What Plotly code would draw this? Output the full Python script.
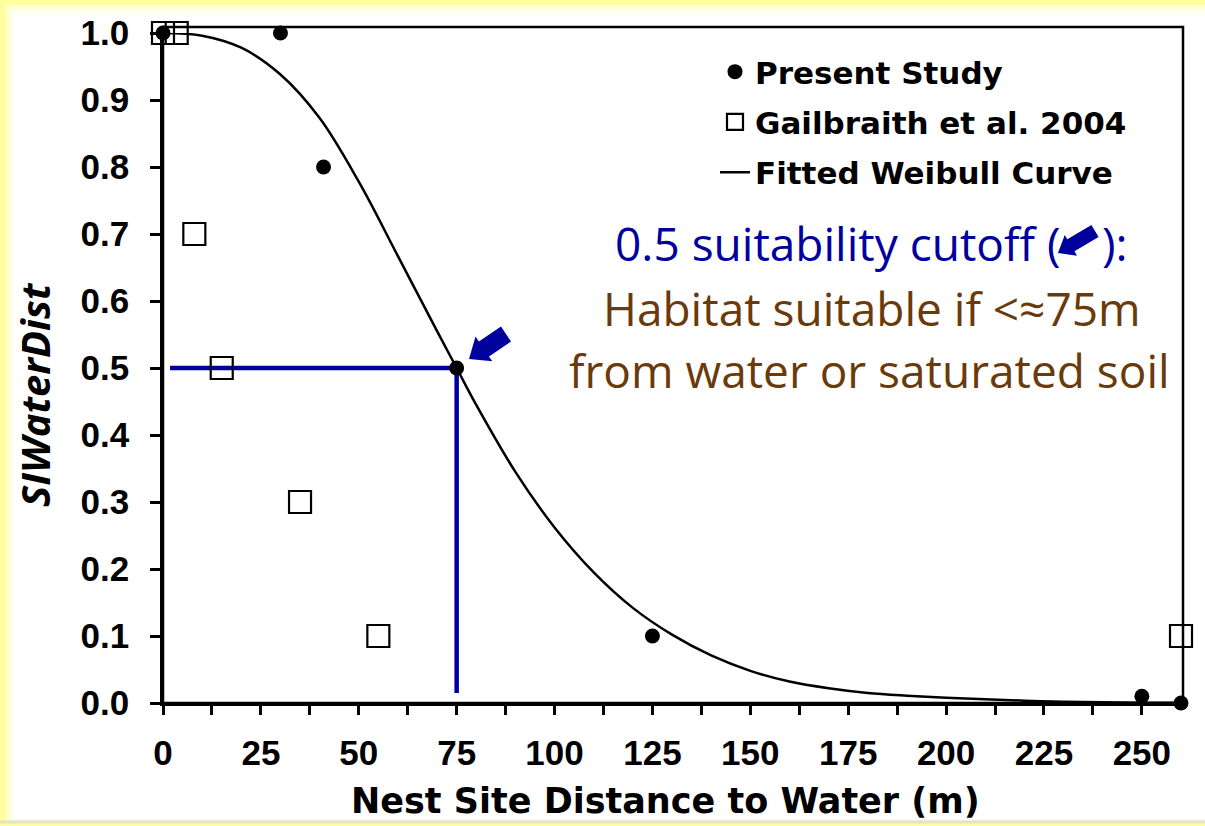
import math
import plotly.graph_objects as go

# ---- data -------------------------------------------------------------
# Present Study observations (nest site distance to water, m / SI value)
study_dist = [0, 30, 41, 75, 125, 250, 260]
study_si = [1.0, 1.0, 0.8, 0.5, 0.1, 0.01, 0.0]

# Gailbraith et al. 2004
gail_dist = [0, 3.5, 8, 15, 35, 55, 260]
gail_si = [1.0, 1.0, 0.7, 0.5, 0.3, 0.1, 0.1]

# Fitted Weibull curve, sampled along the distance axis
curve_dist = [0, 10, 20, 30, 40, 50, 60, 70, 75, 80, 90, 100, 110, 120, 130,
              140, 150, 160, 170, 180, 190, 200, 210, 220, 230, 240, 250, 260]
curve_si = [1.0, 0.996, 0.978, 0.938, 0.873, 0.778, 0.667, 0.555, 0.5, 0.445,
            0.345, 0.262, 0.195, 0.142, 0.102, 0.071, 0.048, 0.032, 0.022,
            0.015, 0.011, 0.008, 0.0055, 0.0035, 0.002, 0.001, 0.0005, 0.0002]

# 0.5 suitability cutoff
cutoff_si = 0.5
cutoff_dist = 75
cutoff_line_start = 1.8
cutoff_line_end_si = 0.015

x_ticks = [0, 25, 50, 75, 100, 125, 150, 175, 200, 225, 250]
y_ticks = [0.0, 0.1, 0.2, 0.3, 0.4, 0.5, 0.6, 0.7, 0.8, 0.9, 1.0]

# ---- layout helpers ---------------------------------------------------
W, H = 1205, 826
L, R, T, B = 163, 24, 33, 123
PW, PH = W - L - R, H - T - B


def px(x):
    return (x - L) / PW


def py(y):
    return (H - B - y) / PH


def block_arrow(tip, tail, head_len, head_half, shaft_half):
    """SVG path (paper coords) of a filled block arrow given in pixels."""
    tx, ty = tip
    dx, dy = tail[0] - tx, tail[1] - ty
    n = math.hypot(dx, dy)
    ux, uy = dx / n, dy / n
    vx, vy = -uy, ux
    local = [(0, 0), (head_len, head_half), (head_len, shaft_half),
             (n, shaft_half), (n, -shaft_half), (head_len, -shaft_half),
             (head_len, -head_half)]
    pts = [(tx + a * ux + p * vx, ty + a * uy + p * vy) for a, p in local]
    return "M " + " L ".join(f"{px(x):.5f},{py(y):.5f}" for x, y in pts) + " Z"


BLUE = "#00009C"
BROWN = "#6B3A0A"
TEXT_FONT = "Open Sans"
BOLD_FONT = "DejaVu Sans"
TICK_FONT = "Liberation Sans"

fig = go.Figure()

fig.add_trace(go.Scatter(
    x=[cutoff_line_start, cutoff_dist, cutoff_dist],
    y=[cutoff_si, cutoff_si, cutoff_line_end_si],
    mode="lines", line=dict(color=BLUE, width=4.5),
    showlegend=False, hoverinfo="skip", cliponaxis=False,
))

fig.add_trace(go.Scatter(
    x=curve_dist, y=curve_si, mode="lines",
    line=dict(color="black", width=2.5, shape="spline", smoothing=1.0),
    name="Fitted Weibull Curve", legendrank=3, legendgroup="c",
    cliponaxis=False,
))

fig.add_trace(go.Scatter(
    x=gail_dist, y=gail_si, mode="markers",
    marker=dict(symbol="square-open", size=22, color="black",
                line=dict(width=2.2, color="black")),
    name="Gailbraith et al. 2004", legendrank=2, legendgroup="b",
    cliponaxis=False,
))

fig.add_trace(go.Scatter(
    x=study_dist, y=study_si, mode="markers",
    marker=dict(symbol="circle", size=15, color="black"),
    name="Present Study", legendrank=1, legendgroup="a",
    cliponaxis=False,
))

shapes = [
    # page border glow
    dict(type="rect", xref="paper", yref="paper", x0=px(0), x1=px(W),
         y0=py(H), y1=py(0), fillcolor="#FFFF9E", line=dict(width=0), layer="below"),
    dict(type="rect", xref="paper", yref="paper", x0=px(6), x1=px(W),
         y0=py(H - 3), y1=py(5), fillcolor="#FFFFD2", line=dict(width=0), layer="below"),
    dict(type="rect", xref="paper", yref="paper", x0=px(12), x1=px(W),
         y0=py(H - 7), y1=py(11), fillcolor="white", line=dict(width=0), layer="below"),
    dict(type="line", xref="paper", yref="paper", x0=px(0), x1=px(W),
         y0=py(H - 4), y1=py(H - 4), line=dict(color="#E2E2C8", width=3), layer="below"),
    # chart frame
    dict(type="rect", xref="paper", yref="paper", x0=0, x1=px(1183),
         y0=0, y1=py(27), line=dict(color="black", width=2.5)),
    # pointer at the cutoff point
    dict(type="path", xref="paper", yref="paper",
         path=block_arrow((469, 359), (506, 334), 18, 15, 9),
         fillcolor=BLUE, line=dict(width=0)),
    # pointer symbol inside the note
    dict(type="path", xref="paper", yref="paper",
         path=block_arrow((1058, 253), (1095, 231), 15, 12, 7),
         fillcolor=BLUE, line=dict(width=0)),
]

note_font = dict(family=TEXT_FONT, size=46)
annotations = [
    dict(text="0.5 suitability cutoff (", x=px(1063), y=py(243), xref="paper",
         yref="paper", xanchor="right", yanchor="middle", showarrow=False,
         font=dict(note_font, color=BLUE)),
    dict(text="):", x=px(1100), y=py(243), xref="paper", yref="paper",
         xanchor="left", yanchor="middle", showarrow=False,
         font=dict(note_font, color=BLUE)),
    dict(text="Habitat suitable if <≈75m", x=px(872), y=py(308), xref="paper",
         yref="paper", xanchor="center", yanchor="middle", showarrow=False,
         font=dict(note_font, color=BROWN)),
    dict(text="from water or saturated soil", x=px(869), y=py(370), xref="paper",
         yref="paper", xanchor="center", yanchor="middle", showarrow=False,
         font=dict(note_font, color=BROWN)),
    # axis titles
    dict(text="Nest Site Distance to Water (m)", x=px(665), y=py(801),
         xref="paper", yref="paper", xanchor="center", yanchor="middle",
         showarrow=False,
         font=dict(family=BOLD_FONT, size=35, color="black", weight=700)),
    dict(text="<i>SIWaterDist</i>", x=px(34), y=py(395), xref="paper",
         yref="paper", xanchor="center", yanchor="middle", textangle=-90,
         showarrow=False,
         font=dict(family=TEXT_FONT, size=40, color="black", weight=700)),
]

fig.update_layout(
    width=W, height=H,
    margin=dict(l=L, r=R, t=T, b=B, pad=0),
    paper_bgcolor="white", plot_bgcolor="white",
    shapes=shapes, annotations=annotations,
    showlegend=True,
    legend=dict(x=px(715), y=py(45), xanchor="left", yanchor="top",
                bgcolor="rgba(0,0,0,0)", tracegroupgap=7, itemwidth=30,
                font=dict(family=BOLD_FONT, size=31, color="black", weight=700)),
    xaxis=dict(range=[0, 260], tickvals=x_ticks, showgrid=False, zeroline=False,
               showline=True, linecolor="black", linewidth=2.5,
               ticks="outside", ticklen=9, tickwidth=2.5, tickcolor="black",
               minor=dict(dtick=12.5, tick0=0, ticks="outside", ticklen=9,
                          tickwidth=2.5, tickcolor="black", showgrid=False),
               ticklabelstandoff=8,
               tickfont=dict(family=TICK_FONT, size=35, color="black", weight=700)),
    yaxis=dict(range=[0, 1], tickvals=y_ticks, tickformat=".1f", showgrid=False,
               zeroline=False, showline=True, linecolor="black", linewidth=2.5,
               ticks="outside", ticklen=10, tickwidth=2.5, tickcolor="black",
               ticklabelstandoff=14,
               tickfont=dict(family=TICK_FONT, size=35, color="black", weight=700)),
)

fig.write_html("out.html")
